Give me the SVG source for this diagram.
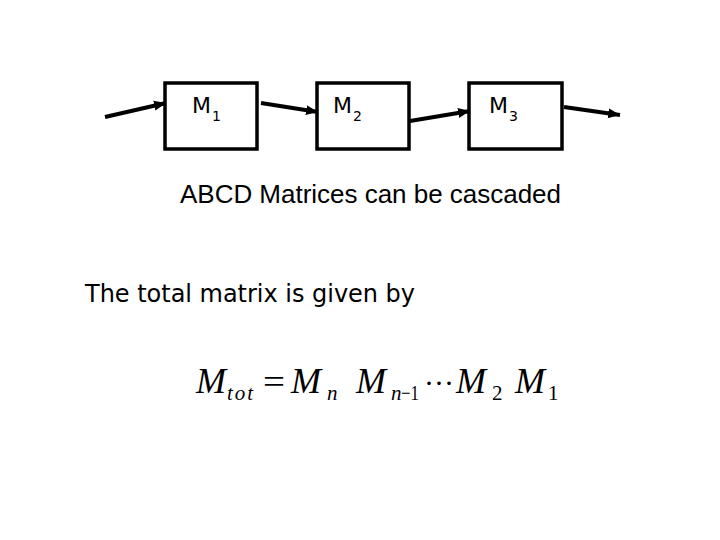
<svg xmlns="http://www.w3.org/2000/svg" width="720" height="540" viewBox="0 0 720 540">
<style>
.box{fill:#fff;stroke:#000;stroke-width:3.5}
.lbl{font-family:"DejaVu Sans",Verdana,sans-serif;font-size:22px;fill:#000}
.sub{font-family:"DejaVu Sans",Verdana,sans-serif;font-size:14px;fill:#000}
.conn{stroke:#000;stroke-width:4;fill:none;marker-end:url(#ah)}
.math{font-family:"Liberation Serif","Times New Roman",serif;font-style:italic;font-size:36px;fill:#000}
.msub{font-family:"Liberation Serif","Times New Roman",serif;font-style:italic;font-size:21px;fill:#000}
.mnum{font-family:"Liberation Serif","Times New Roman",serif;font-size:21px;fill:#000}
</style>
<defs>
<marker id="ah" markerUnits="userSpaceOnUse" markerWidth="14" markerHeight="12" refX="12" refY="5" orient="auto" viewBox="0 0 14 10">
<path d="M0,0 L12,5 L0,10 z" fill="#000"/>
</marker>
</defs>
<rect width="720" height="540" fill="#fff"/>
<g id="connectors">
<line class="conn" x1="105" y1="117" x2="166" y2="103"/>
<line class="conn" x1="261" y1="103" x2="318" y2="112"/>
<line class="conn" x1="410" y1="121" x2="470" y2="111"/>
<line class="conn" x1="564" y1="107" x2="620" y2="115"/>
</g>
<g id="m1">
<rect class="box" x="165" y="83" width="92" height="66"/>
<text class="lbl" x="192" y="113">M</text><text class="sub" x="212" y="121">1</text>
</g>
<g id="m2">
<rect class="box" x="317" y="83" width="92" height="66"/>
<text class="lbl" x="333" y="113">M</text><text class="sub" x="353" y="121">2</text>
</g>
<g id="m3">
<rect class="box" x="469" y="83" width="93" height="66"/>
<text class="lbl" x="489" y="113">M</text><text class="sub" x="509" y="121">3</text>
</g>
<text x="180" y="203" font-family="'Liberation Sans',Arial,sans-serif" font-size="26" textLength="381" fill="#000">ABCD Matrices can be cascaded</text>
<text x="85" y="302" font-family="'DejaVu Sans',Verdana,sans-serif" font-size="24" textLength="330" fill="#000">The total matrix is given by</text>
<g id="formula">
<text class="math" x="196" y="393">M</text>
<text class="msub" x="227" y="400" textLength="26">tot</text>
<text x="263" y="393" font-family="'Liberation Serif','Times New Roman',serif" font-size="34" textLength="22" lengthAdjust="spacingAndGlyphs">=</text>
<text class="math" x="291" y="393">M</text>
<text class="msub" x="327" y="400">n</text>
<text class="math" x="356" y="393">M</text>
<text class="msub" x="391" y="400">n</text><text class="mnum" x="401" y="400" textLength="18" lengthAdjust="spacingAndGlyphs">−1</text>
<text x="424" y="393" font-family="'Liberation Serif','Times New Roman',serif" font-size="30">···</text>
<text class="math" x="456" y="393">M</text>
<text class="mnum" x="492" y="400">2</text>
<text class="math" x="515" y="393">M</text>
<text class="mnum" x="548" y="400">1</text>
</g>
</svg>
